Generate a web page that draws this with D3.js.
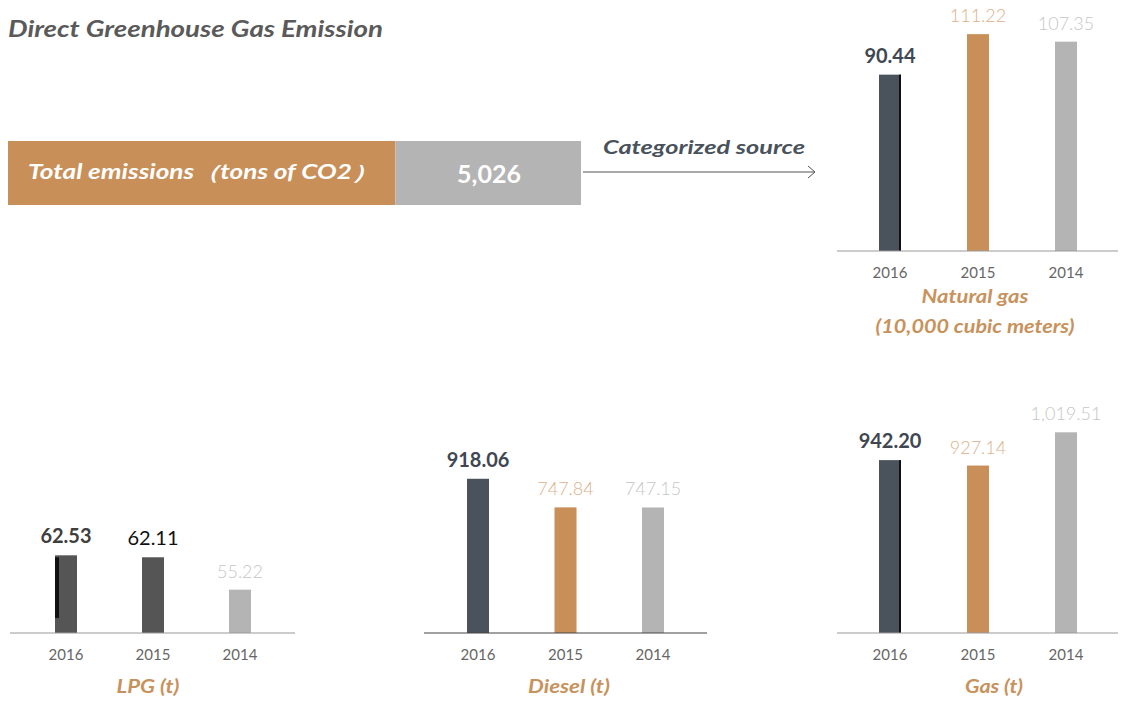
<!DOCTYPE html>
<html>
<head>
<meta charset="utf-8">
<script src="https://cdn.jsdelivr.net/npm/d3@7"></script>
<style>
  html, body { margin: 0; padding: 0; background: #fff; }
  svg text { font-family: Lato, "Open Sans", sans-serif; }
</style>
</head>
<body>
<svg id="chart" width="1122" height="706"></svg>
<script>
const years = ["2016", "2015", "2014"]
const naturalGas = [90.44, 111.22, 107.35]
const lpg = [62.53, 62.11, 55.22]
const diesel = [918.06, 747.84, 747.15]
const gas = [942.20, 927.14, 1019.51]
const totalEmissions = 5026

const svg = d3.select("#chart")
const fmt = d3.format(",.2f")

// title
svg.append("text")
  .attr("x", 8).attr("y", 37)
  .attr("textLength", 375).attr("lengthAdjust", "spacingAndGlyphs")
  .style("font-size", "23px").style("font-weight", 700).style("font-style", "italic")
  .style("fill", "#5a5a5a")
  .text("Direct Greenhouse Gas Emission")

// total emissions bar
const totalX = d3.scaleLinear().domain([0, 1]).range([8, 581])
svg.append("rect")
  .attr("x", totalX(0)).attr("y", 141)
  .attr("width", totalX(0.676) - totalX(0)).attr("height", 64)
  .attr("fill", "#c98f59")
svg.append("rect")
  .attr("x", totalX(0.676)).attr("y", 141)
  .attr("width", totalX(1) - totalX(0.676)).attr("height", 64)
  .attr("fill", "#b4b4b4")
svg.append("text")
  .attr("x", 28).attr("y", 179)
  .attr("textLength", 350).attr("lengthAdjust", "spacingAndGlyphs")
  .style("font-size", "20px").style("font-weight", 700).style("font-style", "italic")
  .style("fill", "#fff")
  .text("Total emissions（tons of CO2）")
svg.append("text")
  .attr("x", 489).attr("y", 183).attr("text-anchor", "middle")
  .style("font-size", "25px").style("font-weight", 700)
  .style("fill", "#fff")
  .text(d3.format(",")(totalEmissions))

svg.append("text")
  .attr("x", 603).attr("y", 154)
  .attr("textLength", 202).attr("lengthAdjust", "spacingAndGlyphs")
  .style("font-size", "19px").style("font-weight", 700).style("font-style", "italic")
  .style("fill", "#4a525c")
  .text("Categorized source")
svg.append("line")
  .attr("x1", 583).attr("x2", 815).attr("y1", 172).attr("y2", 172)
  .attr("stroke", "#555").attr("stroke-width", 1)
svg.append("path")
  .attr("d", "M808,166 L815,172 L808,178")
  .attr("fill", "none").attr("stroke", "#555").attr("stroke-width", 1)

const panels = [
  {
    values: naturalGas, title: ["Natural gas", "(10,000 cubic meters)"], titleW: [107, 199],
    xr: [890, 1066], axis: [837, 1118], base: 251, y0: 0, k: 1.95,
    titleX: 975, titleY: 303, axisColor: "#999",
    barColors: ["#4a525c", "#c98f59", "#b4b4b4"],
    labelColors: ["#3f4752", "#ddb089", "#c6c6c6"],
    labelWeights: [700, 300, 300],
    edge: "right"
  },
  {
    values: lpg, title: ["LPG (t)"], titleW: [63],
    xr: [66, 240], axis: [10, 295], base: 633, y0: 46, k: 4.7,
    titleX: 148, titleY: 693, axisColor: "#999",
    barColors: ["#555555", "#555555", "#b4b4b4"],
    labelColors: ["#3f3f3f", "#111111", "#c6c6c6"],
    labelWeights: [700, 400, 300],
    edge: "left"
  },
  {
    values: diesel, title: ["Diesel (t)"], titleW: [82],
    xr: [478, 653], axis: [424, 707], base: 633, y0: 0, k: 0.168,
    titleX: 569, titleY: 693, axisColor: "#444",
    barColors: ["#4a525c", "#c98f59", "#b4b4b4"],
    labelColors: ["#3f4752", "#ddb089", "#c6c6c6"],
    labelWeights: [700, 300, 300],
    edge: null
  },
  {
    values: gas, title: ["Gas (t)"], titleW: [58],
    xr: [890, 1066], axis: [837, 1118], base: 633, y0: 462, k: 0.36,
    titleX: 994, titleY: 693, axisColor: "#999",
    barColors: ["#4a525c", "#c98f59", "#b4b4b4"],
    labelColors: ["#3f4752", "#ddb089", "#c6c6c6"],
    labelWeights: [700, 300, 300],
    edge: "right"
  }
]

const barW = 22

panels.forEach((p) => {
  const g = svg.append("g")
  const x = d3.scalePoint().domain(years).range(p.xr)
  const vmax = d3.max(p.values)
  const y = d3.scaleLinear()
    .domain([p.y0, vmax])
    .range([p.base, p.base - p.k * (vmax - p.y0)])

  const rows = years.map((yr, i) => ({ year: yr, value: p.values[i], i }))

  g.selectAll(".bar")
    .data(rows)
    .enter()
    .append("rect")
    .attr("class", "bar")
    .attr("x", (d) => x(d.year) - barW / 2)
    .attr("y", (d) => y(d.value))
    .attr("width", barW)
    .attr("height", (d) => p.base - y(d.value))
    .attr("fill", (d) => p.barColors[d.i])

  // dark edge on the first bar
  if (p.edge) {
    const d = rows[0]
    g.append("rect")
      .attr("x", p.edge === "right" ? x(d.year) + barW / 2 - 2 : x(d.year) - barW / 2)
      .attr("y", p.edge === "right" ? y(d.value) : y(d.value) + 2)
      .attr("width", p.edge === "right" ? 2 : 4)
      .attr("height", p.edge === "right" ? p.base - y(d.value) : (p.base - y(d.value)) * 0.78)
      .attr("fill", "#111")
  }

  g.append("line")
    .attr("x1", p.axis[0]).attr("x2", p.axis[1])
    .attr("y1", p.base).attr("y2", p.base)
    .attr("stroke", p.axisColor).attr("stroke-width", 1.2)

  g.selectAll(".tick-label")
    .data(years)
    .enter()
    .append("text")
    .attr("class", "tick-label")
    .attr("x", (d) => x(d))
    .attr("y", p.base + 27)
    .attr("text-anchor", "middle")
    .style("font-size", "15px")
    .style("fill", "#666")
    .text((d) => d)

  g.selectAll(".value-label")
    .data(rows)
    .enter()
    .append("text")
    .attr("class", "value-label")
    .attr("x", (d) => x(d.year))
    .attr("y", (d) => y(d.value) - 12)
    .attr("text-anchor", "middle")
    .style("font-size", (d) => (d.i === 0 || d.i === 1 && p.labelWeights[1] === 400 ? "20px" : "18px"))
    .style("font-weight", (d) => p.labelWeights[d.i])
    .style("fill", (d) => p.labelColors[d.i])
    .text((d) => fmt(d.value))

  g.selectAll(".cat-title")
    .data(p.title)
    .enter()
    .append("text")
    .attr("class", "cat-title")
    .attr("x", p.titleX)
    .attr("y", (d, i) => p.titleY + i * 30)
    .attr("text-anchor", "middle")
    .attr("textLength", (d, i) => p.titleW[i])
    .attr("lengthAdjust", "spacingAndGlyphs")
    .style("font-size", "18px")
    .style("font-weight", 700)
    .style("font-style", "italic")
    .style("fill", "#c8925c")
    .text((d) => d)
})
</script>
</body>
</html>
